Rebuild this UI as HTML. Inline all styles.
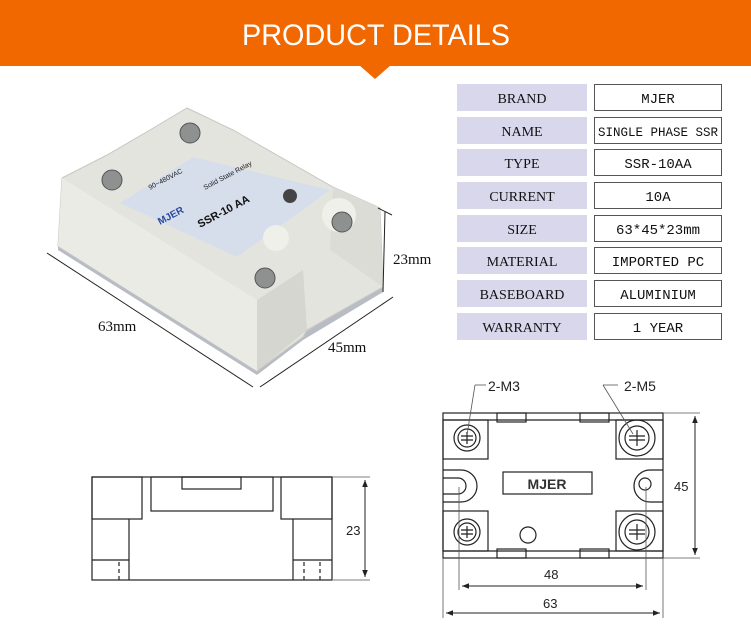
<!DOCTYPE html>
<html><head><meta charset="utf-8"><style>
html,body{margin:0;padding:0;background:#fff;}
svg{display:block;}
.s{font-family:"Liberation Serif",serif;}
.a{font-family:"Liberation Sans",sans-serif;}
.m{font-family:"Liberation Mono",monospace;}
</style></head><body>
<svg width="751" height="624" viewBox="0 0 751 624" xmlns="http://www.w3.org/2000/svg">
<defs>
<marker id="ar" viewBox="0 0 10 10" refX="10" refY="5" markerWidth="7" markerHeight="7" orient="auto-start-reverse"><path d="M0,1 L10,5 L0,9 z" fill="#222"/></marker>
</defs>
<!-- banner -->
<rect x="0" y="0" width="751" height="66" fill="#f26800"/>
<polygon points="359,65 391,65 375,79" fill="#f26800"/>
<text x="376" y="45" font-size="30" fill="#fff" text-anchor="middle" class="a" textLength="268" lengthAdjust="spacingAndGlyphs">PRODUCT  DETAILS</text>

<!-- table -->
<g font-size="14" class="s" text-anchor="middle" fill="#111">
<g id="rows">
<rect x="457" y="84" width="130" height="27" fill="#d9d7ec"/><rect x="594.5" y="84.5" width="127" height="26" fill="#fff" stroke="#555"/>
<text x="522" y="103">BRAND</text><text x="658" y="103" class="m" font-size="14">MJER</text>
<rect x="457" y="117" width="130" height="27" fill="#d9d7ec"/><rect x="594.5" y="117.5" width="127" height="26" fill="#fff" stroke="#555"/>
<text x="522" y="136">NAME</text><text x="658" y="136" class="m" font-size="12.5" textLength="120" lengthAdjust="spacingAndGlyphs">SINGLE PHASE SSR</text>
<rect x="457" y="149" width="130" height="27" fill="#d9d7ec"/><rect x="594.5" y="149.5" width="127" height="26" fill="#fff" stroke="#555"/>
<text x="522" y="168">TYPE</text><text x="658" y="168" class="m">SSR-10AA</text>
<rect x="457" y="182" width="130" height="27" fill="#d9d7ec"/><rect x="594.5" y="182.5" width="127" height="26" fill="#fff" stroke="#555"/>
<text x="522" y="201">CURRENT</text><text x="658" y="201" class="m">10A</text>
<rect x="457" y="215" width="130" height="27" fill="#d9d7ec"/><rect x="594.5" y="215.5" width="127" height="26" fill="#fff" stroke="#555"/>
<text x="522" y="234">SIZE</text><text x="658" y="234" class="m">63*45*23mm</text>
<rect x="457" y="247" width="130" height="27" fill="#d9d7ec"/><rect x="594.5" y="247.5" width="127" height="26" fill="#fff" stroke="#555"/>
<text x="522" y="266">MATERIAL</text><text x="658" y="266" class="m">IMPORTED PC</text>
<rect x="457" y="280" width="130" height="27" fill="#d9d7ec"/><rect x="594.5" y="280.5" width="127" height="26" fill="#fff" stroke="#555"/>
<text x="522" y="299">BASEBOARD</text><text x="658" y="299" class="m">ALUMINIUM</text>
<rect x="457" y="313" width="130" height="27" fill="#d9d7ec"/><rect x="594.5" y="313.5" width="127" height="26" fill="#fff" stroke="#555"/>
<text x="522" y="332">WARRANTY</text><text x="658" y="332" class="m">1 YEAR</text>
</g>
</g>

<!-- photo -->
<polygon points="58,250 257,375 303,340 383,292 383,286 303,333 257,368 58,244" fill="#b8bcc4"/>
<polygon points="62,178 107,155 150,130 187,108 233,130 333,187 380,208 383,287 307,330 303,337 257,371 58,246" fill="#e4e4df" stroke="#c8c8c2"/>
<polygon points="62,178 257,300 257,371 58,246" fill="#ebebe6"/>
<polygon points="257,300 303,270 307,330 257,371" fill="#d6d6d0"/>
<polygon points="120,203 193,157 330,190 237,257" fill="#d6deec"/>
<polygon points="333,187 380,208 383,287 330,250" fill="#dcdcd6"/>
<circle cx="339" cy="215" r="17" fill="#f0f0ea"/>
<circle cx="276" cy="238" r="13" fill="#f0f0ea"/>
<g fill="#8f9090" stroke="#555">
<circle cx="190" cy="133" r="10"/><circle cx="112" cy="180" r="10"/>
<circle cx="342" cy="222" r="10"/><circle cx="265" cy="278" r="10"/>
</g>
<circle cx="290" cy="196" r="7" fill="#444"/>
<text x="160" y="225" font-size="10" font-weight="bold" fill="#2a4aa0" class="a" transform="rotate(-28 160 225)">MJER</text>
<text x="200" y="228" font-size="11" font-weight="bold" fill="#111" class="a" transform="rotate(-28 200 228)">SSR-10 AA</text>
<text x="205" y="190" font-size="7" fill="#222" class="a" transform="rotate(-28 205 190)">Solid State Relay</text>
<text x="150" y="190" font-size="7" fill="#222" class="a" transform="rotate(-28 150 190)">90~480VAC</text>
<g stroke="#222" stroke-width="1">
<line x1="47" y1="253" x2="253" y2="387"/>
<line x1="260" y1="387" x2="393" y2="297"/>
<line x1="385" y1="212" x2="383" y2="292"/>
<line x1="378" y1="208" x2="392" y2="215"/>
</g>
<text x="98" y="331" font-size="15" class="s" fill="#111">63mm</text>
<text x="328" y="352" font-size="15" class="s" fill="#111">45mm</text>
<text x="393" y="264" font-size="15" class="s" fill="#111">23mm</text>

<!-- side drawing -->
<g stroke="#222" stroke-width="1.2" fill="none">
<rect x="92" y="477" width="240" height="103"/>
<rect x="92" y="477" width="50" height="42"/>
<rect x="151" y="477" width="122" height="34"/>
<rect x="182" y="477" width="59" height="12"/>
<rect x="281" y="477" width="51" height="42"/>
<line x1="129" y1="519" x2="129" y2="580"/><line x1="92" y1="560" x2="129" y2="560"/>
<line x1="293" y1="519" x2="293" y2="580"/><line x1="293" y1="560" x2="332" y2="560"/>
<line x1="119" y1="562" x2="119" y2="580" stroke-dasharray="4,3"/>
<line x1="304" y1="562" x2="304" y2="580" stroke-dasharray="4,3"/>
<line x1="320" y1="562" x2="320" y2="580" stroke-dasharray="4,3"/>
</g>
<g stroke="#555" stroke-width="0.8">
<line x1="333" y1="477" x2="370" y2="477"/><line x1="333" y1="580" x2="370" y2="580"/>
</g>
<line x1="365" y1="480" x2="365" y2="577" stroke="#222" marker-start="url(#ar)" marker-end="url(#ar)"/>
<text x="346" y="535" font-size="13" class="a" fill="#222">23</text>

<!-- top drawing -->
<g stroke="#222" stroke-width="1.2" fill="none">
<rect x="443" y="413" width="220" height="145"/>
<line x1="443" y1="420" x2="663" y2="420"/><line x1="443" y1="551" x2="663" y2="551"/>
<rect x="497" y="413" width="29" height="9"/><rect x="580" y="413" width="29" height="9"/>
<rect x="497" y="549" width="29" height="9"/><rect x="580" y="549" width="29" height="9"/>
<rect x="443" y="420" width="45" height="39"/><rect x="616" y="420" width="47" height="39"/>
<rect x="443" y="511" width="45" height="40"/><rect x="616" y="511" width="47" height="40"/>
<path d="M443,470 L461,470 A16,16 0 0 1 461,502 L443,502"/>
<path d="M443,478 L458,478 A8,8 0 0 1 458,494 L443,494"/>
<path d="M650,470 A16,16 0 0 0 650,502 L663,502 M650,470 L663,470"/>
<circle cx="645" cy="484" r="6"/>
<rect x="503" y="472" width="89" height="22"/>
<circle cx="528" cy="535" r="8"/>
<circle cx="467" cy="438" r="13"/><circle cx="467" cy="438" r="9"/>
<circle cx="467" cy="532" r="13"/><circle cx="467" cy="532" r="9"/>
<circle cx="637" cy="438" r="18"/><circle cx="637" cy="438" r="12"/>
<circle cx="637" cy="532" r="18"/><circle cx="637" cy="532" r="12"/>
<path d="M461,436 h12 M461,440 h12 M467,432 v12 M461,530 h12 M461,534 h12 M467,526 v12"/>
<path d="M629,436 h16 M629,440 h16 M637,430 v16 M629,530 h16 M629,534 h16 M637,524 v16"/>
</g>
<text x="547" y="489" font-size="14" font-weight="bold" class="a" fill="#333" text-anchor="middle">MJER</text>
<g stroke="#555" stroke-width="0.8">
<line x1="663" y1="413" x2="700" y2="413"/><line x1="663" y1="558" x2="700" y2="558"/>
<line x1="459" y1="487" x2="459" y2="590"/><line x1="646" y1="487" x2="646" y2="590"/>
<line x1="443" y1="558" x2="443" y2="618"/><line x1="663" y1="558" x2="663" y2="618"/>
<line x1="486" y1="385" x2="475" y2="385"/><line x1="475" y1="385" x2="467" y2="435"/>
<line x1="603" y1="385" x2="618" y2="385"/><line x1="603" y1="385" x2="633" y2="434"/>
</g>
<line x1="695" y1="416" x2="695" y2="555" stroke="#222" marker-start="url(#ar)" marker-end="url(#ar)"/>
<line x1="462" y1="586" x2="643" y2="586" stroke="#222" marker-start="url(#ar)" marker-end="url(#ar)"/>
<line x1="446" y1="613" x2="660" y2="613" stroke="#222" marker-start="url(#ar)" marker-end="url(#ar)"/>
<g font-size="13" class="a" fill="#222">
<text x="674" y="491">45</text>
<text x="544" y="579">48</text>
<text x="543" y="608">63</text>
<text x="488" y="391" font-size="14">2-M3</text>
<text x="624" y="391" font-size="14">2-M5</text>
</g>
</svg>
</body></html>
